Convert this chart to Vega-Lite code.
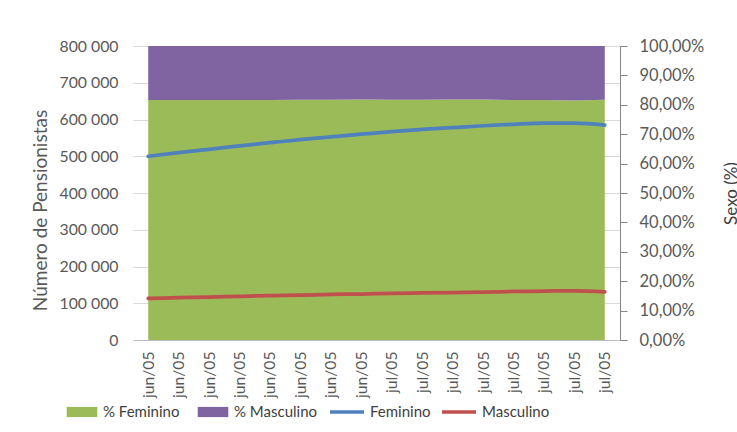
{
  "$schema": "https://vega.github.io/schema/vega-lite/v6.json",
  "width": 487,
  "height": 294,
  "autosize": "none",
  "padding": {"left": 133, "top": 46, "right": 117, "bottom": 92},
  "background": "white",
  "data": {
    "values": [
      {"periodo": "jun/05 #01", "pf": 0.816, "pm": 0.184, "Feminino": 500000, "Masculino": 113000},
      {"periodo": "jun/05 #02", "pf": 0.816, "pm": 0.184, "Feminino": 510000, "Masculino": 115000},
      {"periodo": "jun/05 #03", "pf": 0.816, "pm": 0.184, "Feminino": 519000, "Masculino": 117000},
      {"periodo": "jun/05 #04", "pf": 0.816, "pm": 0.184, "Feminino": 528000, "Masculino": 119000},
      {"periodo": "jun/05 #05", "pf": 0.816, "pm": 0.184, "Feminino": 537000, "Masculino": 121000},
      {"periodo": "jun/05 #06", "pf": 0.817, "pm": 0.183, "Feminino": 545000, "Masculino": 122000},
      {"periodo": "jun/05 #07", "pf": 0.817, "pm": 0.183, "Feminino": 553000, "Masculino": 124000},
      {"periodo": "jun/05 #08", "pf": 0.818, "pm": 0.182, "Feminino": 560000, "Masculino": 125000},
      {"periodo": "jul/05 #09", "pf": 0.817, "pm": 0.183, "Feminino": 567000, "Masculino": 127000},
      {"periodo": "jul/05 #10", "pf": 0.817, "pm": 0.183, "Feminino": 573000, "Masculino": 128000},
      {"periodo": "jul/05 #11", "pf": 0.818, "pm": 0.182, "Feminino": 578000, "Masculino": 129000},
      {"periodo": "jul/05 #12", "pf": 0.818, "pm": 0.182, "Feminino": 583000, "Masculino": 130000},
      {"periodo": "jul/05 #13", "pf": 0.816, "pm": 0.184, "Feminino": 587000, "Masculino": 132000},
      {"periodo": "jul/05 #14", "pf": 0.816, "pm": 0.184, "Feminino": 590000, "Masculino": 133000},
      {"periodo": "jul/05 #15", "pf": 0.815, "pm": 0.185, "Feminino": 590000, "Masculino": 134000},
      {"periodo": "jul/05 #16", "pf": 0.817, "pm": 0.183, "Feminino": 585000, "Masculino": 131000}
    ]
  },
  "layer": [
    {
      "transform": [
        {"fold": ["pf", "pm"], "as": ["k", "pct"]},
        {"lookup": "k", "from": {"data": {"values": [{"k": "pf", "serie": "% Feminino", "ord": 1}, {"k": "pm", "serie": "% Masculino", "ord": 2}]}, "key": "k", "fields": ["serie", "ord"]}}
      ],
      "mark": {"type": "area", "opacity": 1},
      "encoding": {
        "y": {
          "field": "pct",
          "type": "quantitative",
          "stack": "zero",
          "scale": {"domain": [0, 1], "nice": false},
          "axis": {
            "orient": "right",
            "title": "Sexo (%)",
            "values": [0, 0.1, 0.2, 0.3, 0.4, 0.5, 0.6, 0.7, 0.8, 0.9, 1],
            "labelExpr": "replace(format(datum.value, '.2%'), '.', ',')",
            "labelFontSize": 16.5,
            "labelColor": "#595959",
            "labelPadding": 12,
            "tickSize": 7,
            "tickColor": "#868686",
            "domainColor": "#868686",
            "grid": false,
            "titleFontSize": 17,
            "titleFontWeight": "normal",
            "titleColor": "#404040",
            "titleAngle": 270,
            "titleAlign": "center",
            "titleBaseline": "middle",
            "titleX": 111,
            "titleY": 147
          }
        },
        "fill": {
          "field": "serie",
          "type": "nominal",
          "scale": {"domain": ["% Feminino", "% Masculino"], "range": ["#9BBB59", "#8064A2"]},
          "legend": {
            "title": null,
            "orient": "none",
            "legendX": -68,
            "legendY": 349,
            "direction": "horizontal",
            "padding": 0,
            "labelFontSize": 15,
            "labelColor": "#404040",
            "labelOffset": 4,
            "columnPadding": 16,
            "symbolSize": 1156,
            "symbolType": "M-0.9,-0.3H0.9V0.3H-0.9Z",
            "symbolStrokeWidth": 0,
            "symbolOpacity": 1
          }
        },
        "order": {"field": "ord", "type": "quantitative", "sort": "ascending"}
      }
    },
    {
      "transform": [{"fold": ["Feminino", "Masculino"], "as": ["serie", "n"]}],
      "mark": {"type": "line", "strokeWidth": 3.75, "strokeCap": "round", "strokeJoin": "round", "interpolate": "monotone"},
      "encoding": {
        "y": {
          "field": "n",
          "type": "quantitative",
          "scale": {"domain": [0, 800000], "nice": false},
          "axis": {
            "orient": "left",
            "title": "Número de Pensionistas",
            "values": [0, 100000, 200000, 300000, 400000, 500000, 600000, 700000, 800000],
            "labelExpr": "replace(format(datum.value, ','), ',', ' ')",
            "labelFontSize": 15.8,
            "labelColor": "#595959",
            "labelPadding": 15,
            "ticks": false,
            "domain": false,
            "grid": true,
            "gridColor": "#d9d9d9",
            "titleFontSize": 19,
            "titleFontWeight": "normal",
            "titleColor": "#595959",
            "titleAngle": 270,
            "titleAlign": "center",
            "titleBaseline": "middle",
            "titleX": -93,
            "titleY": 164
          }
        },
        "stroke": {
          "field": "serie",
          "type": "nominal",
          "scale": {"domain": ["Feminino", "Masculino"], "range": ["#4F81BD", "#C0504D"]},
          "legend": {
            "title": null,
            "orient": "none",
            "legendX": 195,
            "legendY": 347,
            "direction": "horizontal",
            "padding": 0,
            "labelFontSize": 15,
            "labelColor": "#404040",
            "labelOffset": 4,
            "columnPadding": 4,
            "symbolSize": 1156,
            "symbolType": "M-1,0H1",
            "symbolStrokeWidth": 3.5,
            "symbolOpacity": 1
          }
        }
      }
    }
  ],
  "encoding": {
    "x": {
      "field": "periodo",
      "type": "ordinal",
      "sort": null,
      "scale": {"type": "point", "padding": 0.5},
      "axis": {
        "title": null,
        "labelAngle": 270,
        "labelExpr": "substring(datum.value, 0, 6)",
        "labelFontSize": 15.7,
        "labelColor": "#595959",
        "labelPadding": 11,
        "ticks": false,
        "domainColor": "#bfbfbf",
        "grid": false
      }
    }
  },
  "resolve": {"scale": {"y": "independent"}},
  "config": {
    "font": "Lato",
    "view": {"stroke": null}
  }
}
